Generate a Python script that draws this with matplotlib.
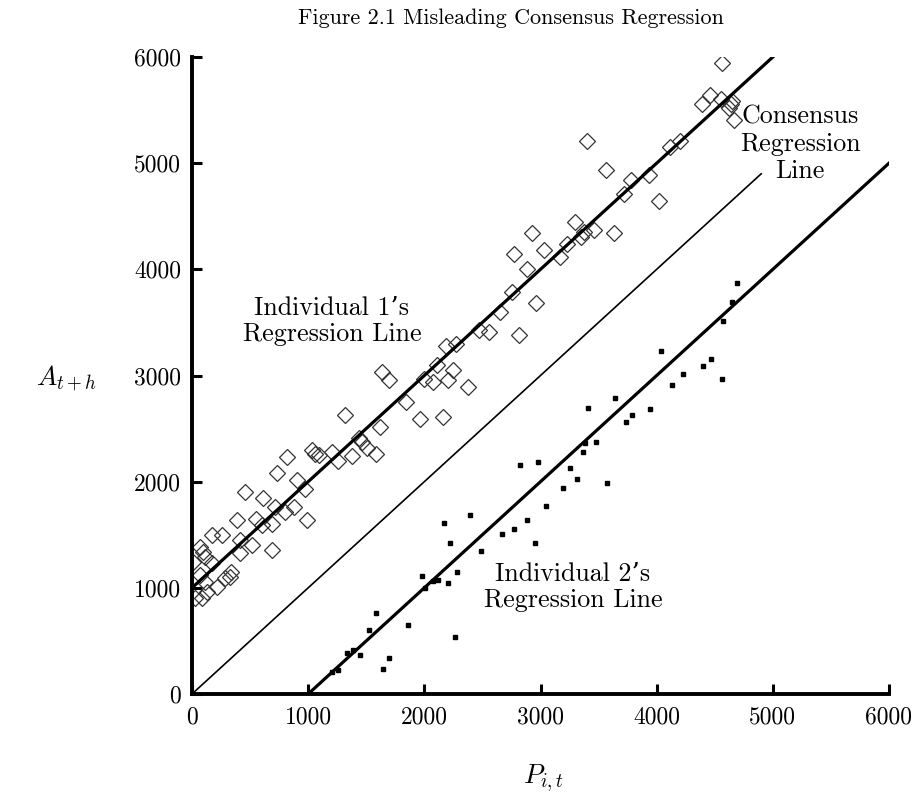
import matplotlib
matplotlib.use("Agg")
import matplotlib.pyplot as plt
import numpy as np

plt.rcParams['mathtext.fontset'] = 'cm'
plt.rcParams['font.family'] = ['cmr10', 'DejaVu Serif']
plt.rcParams['axes.formatter.use_mathtext'] = True

# Individual 1 observations (diamonds)
ind1_x = [4560, 4390, 4460, 4550, 4650, 4620, 4670, 4115, 4205, 3400,
          3565, 3775, 3720, 3930, 4020, 3630, 2930, 3300, 3375, 3345,
          3460, 2775, 3030, 2880, 3230, 3170, 2755, 2965, 2655, 2470,
          2555, 2815, 2190, 2275, 2105, 2250, 1995, 2075, 2200, 1635,
          1695, 1845, 1960, 2160, 1320, 1620, 1440, 1465, 1505, 1580,
          1375, 1260, 1205, 1030, 1060, 1090, 815, 730, 900, 975,
          455, 615, 715, 800, 875, 385, 555, 600, 690, 990,
          2380, 170, 255, 415, 515, 690, 70, 95, 10, 110,
          170, 415, 340, 285, 215, 70, 110, 25, 85, 125, 330, 4640]
ind1_y = [5940, 5560, 5640, 5600, 5590, 5515, 5405, 5155, 5210, 5210,
          4935, 4840, 4710, 4890, 4645, 4345, 4345, 4450, 4355, 4305,
          4375, 4140, 4180, 4000, 4235, 4120, 3790, 3685, 3600, 3425,
          3410, 3380, 3280, 3300, 3100, 3050, 2970, 2940, 2960, 3035,
          2960, 2755, 2590, 2610, 2625, 2515, 2415, 2375, 2315, 2260,
          2240, 2190, 2280, 2300, 2265, 2250, 2235, 2080, 2015, 1935,
          1905, 1845, 1765, 1715, 1765, 1640, 1650, 1590, 1605, 1640,
          2895, 1500, 1500, 1450, 1400, 1355, 1385, 1340, 1245, 1295,
          1230, 1325, 1150, 1090, 1010, 1120, 1055, 900, 900, 965, 1105, 5560]

# Individual 2 observations (small squares)
ind2_x = [4690, 4650, 4575, 4035, 4465, 4400, 4560, 4230, 4130, 3645,
          3410, 3945, 3790, 3735, 3475, 3380, 3370, 2825, 2980, 3250,
          3310, 3575, 3190, 3045, 2395, 2165, 2885, 2775, 2670, 2950,
          2490, 2225, 2285, 2200, 2265, 1980, 2115, 2075, 2010, 1585,
          1520, 1860, 1390, 1450, 1700, 1645, 1260, 1205, 1335]
ind2_y = [3870, 3695, 3515, 3230, 3160, 3090, 2965, 3015, 2910, 2790,
          2695, 2685, 2625, 2560, 2375, 2360, 2280, 2160, 2185, 2130,
          2025, 1990, 1940, 1770, 1685, 1615, 1640, 1550, 1505, 1420,
          1345, 1425, 1150, 1050, 540, 1110, 1075, 1060, 995, 765,
          605, 650, 415, 365, 335, 240, 225, 210, 385]

# Regression lines (endpoints)
line1_x = [0, 5000]
line1_y = [1000, 6000]
cons_x = [0, 4900]
cons_y = [0, 4900]
line2_x = [1000, 6000]
line2_y = [0, 5000]

ticks = [0, 1000, 2000, 3000, 4000, 5000, 6000]

fig = plt.figure(figsize=(9.16, 8.01), dpi=100)
ax = fig.add_axes([192/916, 1 - 694/801, (889-192)/916, (694-57)/801])

ax.plot(ind1_x, ind1_y, linestyle='none', marker='D', markersize=8.6,
        markerfacecolor='none', markeredgecolor='#333333', markeredgewidth=0.9, zorder=2)
ax.plot(ind2_x, ind2_y, linestyle='none', marker='s', markersize=2.6,
        color='black', zorder=3)
ax.plot(line1_x, line1_y, color='black', linewidth=2.3, zorder=4)
ax.plot(cons_x, cons_y, color='black', linewidth=1.2, zorder=4)
ax.plot(line2_x, line2_y, color='black', linewidth=2.3, zorder=4)

ax.set_xlim(0, 6000)
ax.set_ylim(0, 6000)
ax.set_xticks(ticks)
ax.set_yticks(ticks)
ax.set_xticklabels([str(t) for t in ticks])
ax.set_yticklabels([str(t) for t in ticks])
ax.tick_params(direction='in', length=7.5, width=2.2, labelsize=17)
ax.tick_params(axis='x', pad=9)
ax.tick_params(axis='y', pad=8)
for s in ['top', 'right']:
    ax.spines[s].set_visible(False)
for s in ['left', 'bottom']:
    ax.spines[s].set_linewidth(2.8)
for lab in ax.get_xticklabels() + ax.get_yticklabels():
    lab.set_clip_on(False)

fig.text(511/916, 1 - 18/801, 'Figure 2.1 Misleading Consensus Regression',
         ha='center', va='center', fontsize=15.9)
fig.text(66/916, 1 - 378/801, r'$A_{t+h}$', ha='center', va='center', fontsize=19.5)
fig.text(543/916, 1 - 778/801, r'$P_{i,t}$', ha='center', va='center', fontsize=19.5)

ax.text(1205, 3513, "Individual 1\u2019s\nRegression Line", ha='center', va='center',
        fontsize=18.7, linespacing=1.12)
ax.text(3280, 1008, "Individual 2\u2019s\nRegression Line", ha='center', va='center',
        fontsize=18.7, linespacing=1.12)
ax.text(5234, 5180, "Consensus\nRegression\nLine", ha='center', va='center',
        fontsize=18.7, linespacing=1.18)

fig.savefig('out.png', dpi=100)
